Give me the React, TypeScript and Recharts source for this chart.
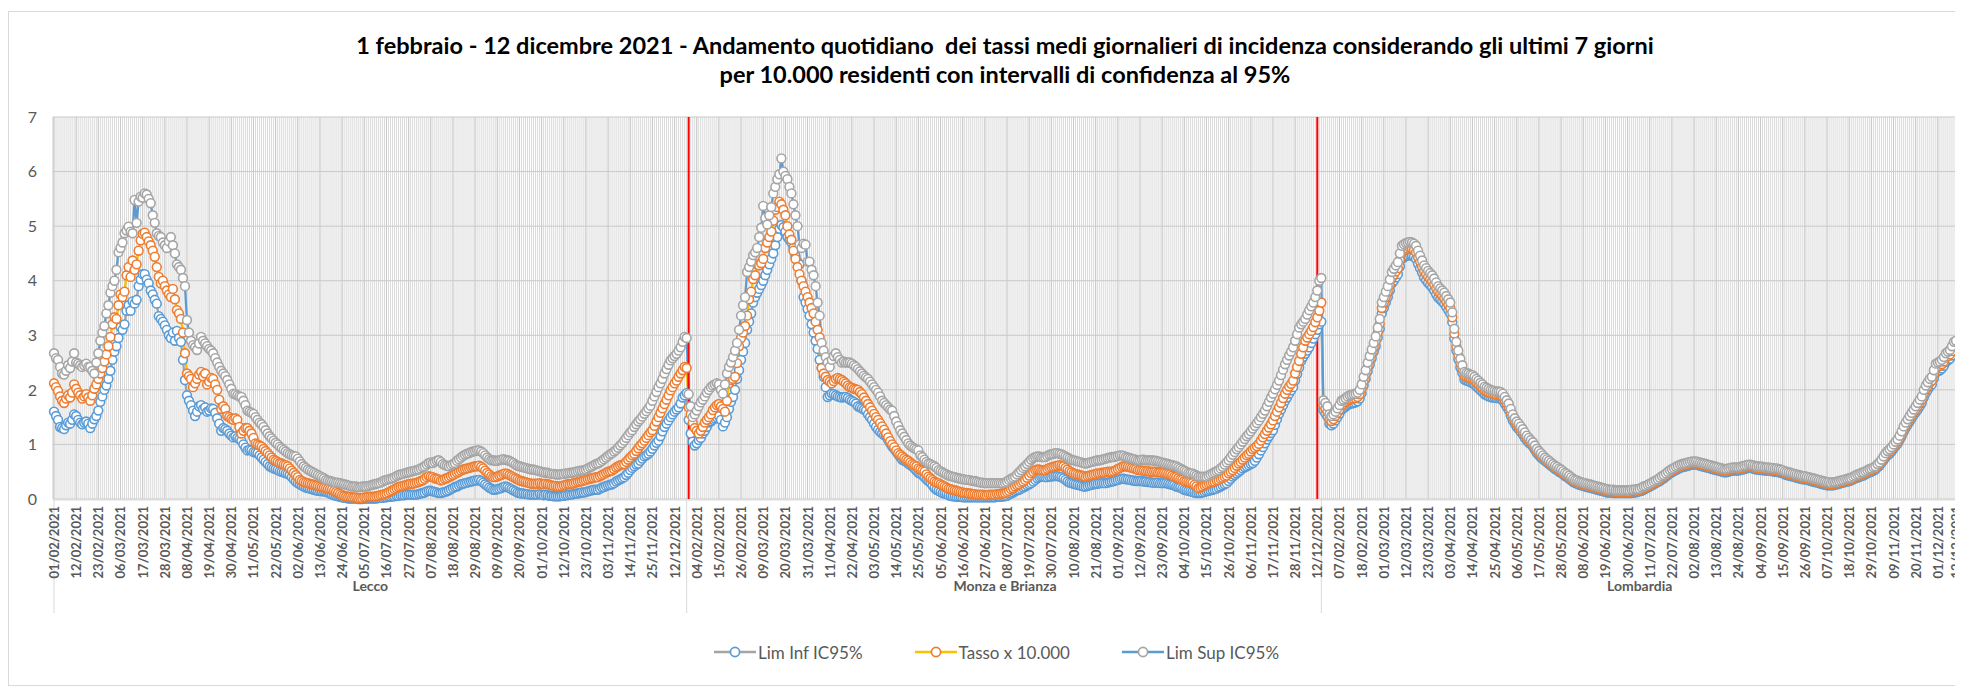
import React from 'react';
import { LineChart, Line, XAxis, YAxis, CartesianGrid, ReferenceLine, Legend } from 'recharts';

// ---------- DATA ----------
const GROUP_NAMES = ['Lecco', 'Monza e Brianza', 'Lombardia'];

const LECCO_TASSO = [
  2.12,2.05,1.98,1.88,1.80,1.76,1.84,1.90,1.86,1.95,
  2.10,2.02,1.95,1.90,1.84,1.88,1.92,1.86,1.80,1.90,
  2.02,2.10,2.20,2.30,2.40,2.52,2.65,2.80,2.97,3.20,
  3.33,3.30,3.55,3.75,3.70,3.80,4.10,4.25,4.07,4.37,
  4.20,4.30,4.55,4.74,4.86,4.88,4.80,4.72,4.65,4.55,
  4.44,4.25,4.07,3.95,4.00,3.90,3.82,3.75,3.70,3.85,
  3.66,3.46,3.40,3.30,3.05,2.67,2.30,2.25,2.20,2.05,
  2.12,2.20,2.28,2.33,2.25,2.30,2.10,2.15,2.22,2.20,
  2.10,2.00,1.82,1.65,1.70,1.65,1.52,1.50,1.47,1.45,
  1.48,1.45,1.32,1.20,1.25,1.30,1.30,1.25,1.20,1.12,
  1.02,1.00,0.98,0.96,0.92,0.88,0.84,0.80,0.76,0.72,
  0.70,0.68,0.66,0.65,0.63,0.62,0.60,0.56,0.52,0.48,
  0.44,0.40,0.35,0.33,0.31,0.30,0.29,0.28,0.27,0.26,
  0.25,0.24,0.23,0.22,0.21,0.20,0.19,0.18,0.17,0.15,
  0.13,0.11,0.09,0.07,0.06,0.05,0.04,0.04,0.03,0.03,
  0.03,0.02,0.02,0.02,0.03,0.03,0.04,0.04,0.04,0.04,
  0.05,0.06,0.07,0.08,0.09,0.10,0.12,0.14,0.16,0.18,
  0.20,0.22,0.23,0.24,0.25,0.26,0.27,0.28,0.28,0.29,
  0.30,0.31,0.33,0.34,0.37,0.40,0.42,0.41,0.40,0.38,
  0.37,0.36,0.34,0.35,0.37,0.38,0.40,0.42,0.44,0.46,
  0.48,0.50,0.52,0.54,0.55,0.56,0.57,0.58,0.59,0.60,
  0.60,0.61,0.59,0.56,0.52,0.48,0.45,0.42,0.40,0.40,
  0.41,0.43,0.44,0.46,0.47,0.46,0.44,0.42,0.40,0.38,
  0.36,0.34,0.33,0.32,0.31,0.30,0.29,0.28,0.28,0.28,
  0.28,0.29,0.28,0.27,0.28,0.27,0.26,0.25,0.24,0.24,
  0.23,0.23,0.24,0.25,0.26,0.27,0.27,0.28,0.29,0.30,
  0.31,0.32,0.33,0.34,0.35,0.36,0.37,0.38,0.39,0.40,
  0.40,0.42,0.44,0.46,0.48,0.50,0.51,0.52,0.55,0.58,
  0.60,0.62,0.63,0.64,0.68,0.72,0.76,0.80,0.83,0.88,
  0.93,0.98,1.02,1.07,1.12,1.17,1.22,1.26,1.34,1.42,
  1.50,1.58,1.66,1.74,1.82,1.90,1.99,2.05,2.12,2.17,
  2.24,2.30,2.36,2.42,2.40,
];

const LECCO_INF = [
  1.60,1.52,1.45,1.32,1.30,1.28,1.35,1.40,1.38,1.45,
  1.55,1.52,1.45,1.40,1.37,1.40,1.42,1.38,1.30,1.38,
  1.46,1.52,1.62,1.78,1.88,2.00,2.08,2.20,2.35,2.55,
  2.70,2.80,2.95,3.15,3.10,3.20,3.45,3.55,3.45,3.62,
  3.58,3.65,3.90,4.02,4.12,4.12,4.02,3.95,3.82,3.75,
  3.65,3.58,3.35,3.30,3.25,3.18,3.10,3.00,2.95,3.05,
  2.90,3.08,2.95,2.88,2.55,2.18,1.90,1.80,1.72,1.62,
  1.52,1.60,1.70,1.72,1.65,1.68,1.60,1.62,1.66,1.65,
  1.58,1.48,1.38,1.25,1.30,1.28,1.25,1.20,1.16,1.13,
  1.15,1.12,1.10,1.07,1.00,0.94,0.89,0.90,0.89,0.86,
  0.85,0.84,0.80,0.76,0.72,0.68,0.64,0.60,0.58,0.56,
  0.55,0.53,0.51,0.50,0.49,0.47,0.46,0.44,0.40,0.36,
  0.32,0.29,0.27,0.25,0.23,0.21,0.20,0.19,0.18,0.17,
  0.16,0.15,0.15,0.14,0.14,0.13,0.12,0.10,0.08,0.07,
  0.06,0.05,0.04,0.03,0.02,0.02,0.01,0.01,0.01,0.01,
  0.01,0.00,0.00,0.00,0.01,0.01,0.01,0.01,0.01,0.01,
  0.01,0.02,0.02,0.02,0.03,0.03,0.04,0.04,0.05,0.05,
  0.06,0.06,0.07,0.07,0.07,0.08,0.08,0.08,0.08,0.08,
  0.08,0.09,0.10,0.11,0.12,0.14,0.15,0.15,0.14,0.13,
  0.12,0.11,0.11,0.12,0.13,0.14,0.16,0.18,0.20,0.22,
  0.23,0.25,0.27,0.28,0.29,0.30,0.31,0.32,0.33,0.34,
  0.34,0.35,0.33,0.30,0.27,0.24,0.21,0.19,0.17,0.17,
  0.18,0.19,0.20,0.22,0.23,0.22,0.20,0.18,0.16,0.14,
  0.12,0.11,0.10,0.10,0.09,0.09,0.08,0.08,0.08,0.08,
  0.08,0.09,0.08,0.07,0.08,0.07,0.06,0.06,0.05,0.05,
  0.05,0.05,0.06,0.06,0.07,0.07,0.08,0.08,0.09,0.10,
  0.10,0.11,0.12,0.12,0.13,0.14,0.15,0.16,0.17,0.17,
  0.17,0.19,0.21,0.22,0.24,0.25,0.26,0.27,0.29,0.32,
  0.34,0.36,0.38,0.40,0.44,0.48,0.53,0.57,0.60,0.63,
  0.65,0.70,0.74,0.78,0.80,0.83,0.87,0.92,0.98,1.03,
  1.07,1.15,1.24,1.32,1.38,1.44,1.50,1.55,1.60,1.64,
  1.68,1.75,1.86,1.90,1.94,
];

const LECCO_SUP = [
  2.67,2.58,2.55,2.42,2.30,2.28,2.35,2.45,2.40,2.52,
  2.67,2.50,2.48,2.45,2.42,2.45,2.48,2.42,2.42,2.35,
  2.30,2.50,2.67,2.90,3.05,3.17,3.40,3.55,3.78,3.90,
  4.00,4.20,4.52,4.60,4.70,4.87,4.92,4.99,4.90,4.87,
  5.48,5.06,5.45,5.54,5.52,5.60,5.58,5.50,5.42,5.20,
  5.06,4.87,4.82,4.80,4.70,4.65,4.60,4.72,4.80,4.65,
  4.50,4.30,4.25,4.20,4.05,3.90,3.28,3.05,2.90,2.82,
  2.78,2.73,2.85,2.97,2.90,2.85,2.80,2.75,2.72,2.67,
  2.58,2.50,2.42,2.35,2.30,2.25,2.18,2.10,2.02,1.93,
  1.92,1.90,1.88,1.87,1.80,1.72,1.62,1.60,1.58,1.56,
  1.50,1.45,1.40,1.37,1.32,1.26,1.20,1.15,1.11,1.07,
  1.03,1.00,0.96,0.93,0.90,0.87,0.84,0.82,0.80,0.79,
  0.78,0.74,0.69,0.64,0.60,0.57,0.54,0.52,0.50,0.48,
  0.46,0.44,0.42,0.40,0.38,0.35,0.34,0.33,0.32,0.31,
  0.30,0.30,0.29,0.28,0.27,0.26,0.25,0.24,0.23,0.23,
  0.23,0.22,0.22,0.23,0.23,0.23,0.24,0.25,0.26,0.27,
  0.28,0.29,0.30,0.32,0.34,0.35,0.36,0.37,0.38,0.40,
  0.42,0.44,0.45,0.46,0.47,0.48,0.49,0.50,0.51,0.52,
  0.53,0.54,0.56,0.58,0.60,0.63,0.66,0.67,0.66,0.68,
  0.70,0.71,0.68,0.64,0.62,0.61,0.60,0.62,0.64,0.66,
  0.70,0.73,0.76,0.79,0.81,0.83,0.84,0.86,0.87,0.88,
  0.89,0.89,0.87,0.84,0.80,0.76,0.73,0.71,0.71,0.70,
  0.70,0.71,0.72,0.73,0.72,0.71,0.70,0.68,0.66,0.63,
  0.61,0.60,0.59,0.58,0.57,0.56,0.55,0.54,0.54,0.53,
  0.52,0.51,0.50,0.49,0.48,0.48,0.47,0.46,0.46,0.45,
  0.45,0.45,0.46,0.46,0.47,0.47,0.48,0.48,0.49,0.50,
  0.51,0.52,0.52,0.53,0.54,0.56,0.58,0.60,0.62,0.64,
  0.65,0.67,0.70,0.73,0.76,0.79,0.82,0.84,0.87,0.90,
  0.94,0.98,1.02,1.07,1.12,1.17,1.22,1.26,1.32,1.37,
  1.42,1.46,1.51,1.56,1.61,1.66,1.71,1.80,1.88,1.96,
  2.05,2.12,2.20,2.30,2.38,2.46,2.54,2.58,2.62,2.66,
  2.72,2.78,2.88,2.97,2.95,
];

const MONZA_TASSO = [
  1.68,1.55,1.40,1.30,1.25,1.20,1.25,1.32,1.40,1.45,
  1.50,1.55,1.63,1.68,1.72,1.74,1.70,1.65,1.60,1.80,
  2.12,2.18,2.20,2.24,2.49,2.80,2.95,3.05,3.17,3.36,
  3.66,3.80,4.03,4.10,4.30,4.28,4.32,4.40,4.60,4.70,
  4.80,4.90,5.10,5.30,5.35,5.45,5.40,5.30,5.20,5.00,
  4.85,4.75,4.55,4.40,4.25,4.12,4.00,3.90,3.80,3.70,
  3.60,3.50,3.40,3.25,3.10,2.96,2.40,2.30,2.24,2.18,
  2.15,2.12,2.16,2.20,2.22,2.20,2.18,2.15,2.12,2.08,
  2.05,2.04,2.02,2.01,2.00,1.96,1.92,1.86,1.80,1.74,
  1.68,1.62,1.56,1.50,1.45,1.39,1.33,1.27,1.20,1.13,
  1.06,1.00,0.95,0.89,0.84,0.81,0.78,0.75,0.72,0.70,
  0.67,0.64,0.62,0.60,0.56,0.54,0.52,0.50,0.45,0.41,
  0.38,0.35,0.32,0.30,0.29,0.27,0.25,0.23,0.21,0.19,
  0.18,0.17,0.16,0.15,0.14,0.13,0.12,0.11,0.11,0.10,
  0.10,0.09,0.09,0.08,0.08,0.08,0.08,0.07,0.07,0.08,
  0.08,0.08,0.08,0.09,0.09,0.10,0.10,0.11,0.13,0.15,
  0.18,0.20,0.23,0.25,0.27,0.30,0.32,0.35,0.39,0.43,
  0.47,0.50,0.53,0.54,0.54,0.53,0.53,0.53,0.55,0.57,
  0.58,0.59,0.60,0.61,0.62,0.61,0.60,0.57,0.54,0.51,
  0.49,0.47,0.46,0.45,0.44,0.43,0.42,0.41,0.42,0.43,
  0.44,0.45,0.46,0.47,0.47,0.48,0.48,0.49,0.50,0.50,
  0.50,0.51,0.53,0.55,0.57,0.59,0.60,0.60,0.59,0.58,
  0.57,0.56,0.55,0.53,0.53,0.52,0.52,0.51,0.51,0.50,
  0.50,0.50,0.50,0.49,0.49,0.48,0.48,0.47,0.46,0.45,
  0.43,0.41,0.40,0.38,0.36,0.35,0.33,0.32,0.31,0.30,
  0.29,0.26,0.23,0.20,0.21,0.23,0.25,0.27,0.29,0.30,
  0.31,0.32,0.34,0.35,0.37,0.39,0.41,0.43,0.47,0.50,
  0.53,0.57,0.61,0.65,0.68,0.72,0.76,0.80,0.83,0.87,
  0.91,0.94,0.97,1.01,1.07,1.13,1.19,1.25,1.31,1.37,
  1.44,1.52,1.60,1.68,1.76,1.85,1.93,2.00,2.06,2.11,
  2.17,2.30,2.42,2.53,2.66,2.78,2.90,2.96,3.02,3.08,
  3.15,3.24,3.33,3.45,3.60,
];

const MONZA_INF = [
  1.45,1.20,1.05,0.98,1.02,1.08,1.12,1.20,1.25,1.32,
  1.40,1.42,1.45,1.48,1.50,1.52,1.45,1.33,1.40,1.50,
  1.65,1.78,1.87,2.00,2.20,2.36,2.55,2.70,2.86,3.10,
  3.25,3.40,3.60,3.70,3.78,3.85,3.92,4.00,4.10,4.20,
  4.30,4.40,4.50,4.65,4.80,4.95,5.02,4.98,4.90,4.80,
  4.75,4.70,4.60,4.45,4.35,4.30,4.00,3.70,3.60,3.48,
  3.36,3.20,3.05,2.90,2.75,2.55,2.40,2.24,2.05,1.87,
  1.90,1.93,1.92,1.90,1.88,1.87,1.86,1.87,1.87,1.85,
  1.82,1.80,1.78,1.75,1.70,1.68,1.66,1.64,1.62,1.55,
  1.50,1.45,1.38,1.32,1.27,1.23,1.20,1.17,1.15,1.08,
  1.02,0.96,0.92,0.87,0.82,0.77,0.72,0.70,0.68,0.65,
  0.62,0.60,0.56,0.52,0.48,0.46,0.44,0.40,0.36,0.33,
  0.30,0.25,0.20,0.17,0.15,0.13,0.11,0.10,0.09,0.07,
  0.06,0.05,0.05,0.04,0.04,0.04,0.03,0.03,0.03,0.03,
  0.03,0.03,0.03,0.03,0.03,0.03,0.03,0.03,0.03,0.03,
  0.03,0.03,0.03,0.04,0.04,0.04,0.05,0.05,0.06,0.08,
  0.10,0.12,0.14,0.16,0.17,0.19,0.21,0.23,0.25,0.27,
  0.29,0.32,0.35,0.38,0.40,0.41,0.41,0.40,0.40,0.41,
  0.41,0.42,0.42,0.42,0.41,0.40,0.38,0.35,0.32,0.30,
  0.29,0.28,0.27,0.26,0.25,0.24,0.23,0.23,0.24,0.25,
  0.26,0.27,0.28,0.28,0.29,0.29,0.29,0.29,0.30,0.31,
  0.32,0.33,0.34,0.35,0.36,0.37,0.37,0.36,0.36,0.35,
  0.34,0.34,0.33,0.33,0.33,0.33,0.32,0.32,0.31,0.31,
  0.30,0.30,0.30,0.30,0.29,0.29,0.29,0.29,0.28,0.27,
  0.26,0.25,0.23,0.22,0.21,0.19,0.17,0.16,0.15,0.14,
  0.13,0.12,0.11,0.11,0.11,0.12,0.13,0.14,0.15,0.16,
  0.17,0.18,0.19,0.21,0.23,0.25,0.27,0.29,0.33,0.37,
  0.41,0.44,0.47,0.50,0.53,0.56,0.58,0.60,0.62,0.64,
  0.66,0.70,0.76,0.82,0.89,0.95,1.02,1.09,1.15,1.21,
  1.26,1.36,1.46,1.56,1.64,1.72,1.80,1.86,1.93,1.99,
  2.05,2.17,2.29,2.41,2.53,2.60,2.66,2.72,2.78,2.86,
  2.94,3.02,3.10,3.20,3.25,
];

const MONZA_SUP = [
  1.92,1.70,1.50,1.55,1.62,1.70,1.77,1.82,1.88,1.95,
  2.00,2.05,2.08,2.10,2.12,2.10,2.00,1.93,2.10,2.30,
  2.42,2.50,2.60,2.72,2.86,3.10,3.36,3.55,3.70,4.16,
  4.25,4.35,4.47,4.52,4.60,4.80,4.97,5.37,5.15,5.03,
  5.20,5.35,5.60,5.72,5.86,5.95,6.24,6.00,5.92,5.86,
  5.72,5.60,5.40,5.20,5.00,4.66,4.60,4.68,4.66,4.35,
  4.35,4.20,4.10,3.90,3.60,3.36,2.86,2.72,2.60,2.50,
  2.42,2.55,2.62,2.67,2.60,2.55,2.50,2.52,2.50,2.50,
  2.50,2.48,2.45,2.42,2.38,2.34,2.30,2.26,2.23,2.20,
  2.15,2.10,2.05,2.00,1.95,1.88,1.80,1.76,1.72,1.68,
  1.64,1.62,1.52,1.42,1.34,1.26,1.20,1.14,1.08,1.02,
  0.98,0.95,0.93,0.91,0.89,0.80,0.77,0.72,0.68,0.65,
  0.64,0.62,0.60,0.57,0.53,0.51,0.49,0.47,0.45,0.43,
  0.42,0.41,0.40,0.39,0.38,0.37,0.36,0.36,0.35,0.35,
  0.34,0.33,0.33,0.32,0.31,0.30,0.30,0.29,0.29,0.29,
  0.29,0.29,0.29,0.29,0.29,0.29,0.29,0.30,0.32,0.35,
  0.37,0.39,0.41,0.45,0.49,0.53,0.57,0.60,0.64,0.68,
  0.72,0.75,0.77,0.78,0.78,0.77,0.77,0.77,0.79,0.81,
  0.82,0.83,0.84,0.84,0.83,0.82,0.80,0.78,0.76,0.74,
  0.72,0.71,0.70,0.69,0.68,0.67,0.66,0.65,0.66,0.67,
  0.68,0.69,0.70,0.71,0.71,0.72,0.73,0.74,0.75,0.76,
  0.77,0.77,0.78,0.79,0.80,0.80,0.79,0.77,0.76,0.75,
  0.74,0.73,0.72,0.71,0.71,0.72,0.72,0.71,0.71,0.71,
  0.71,0.70,0.70,0.69,0.68,0.67,0.66,0.65,0.64,0.63,
  0.62,0.61,0.60,0.58,0.56,0.54,0.52,0.50,0.48,0.47,
  0.47,0.45,0.43,0.41,0.41,0.41,0.41,0.41,0.43,0.45,
  0.47,0.49,0.51,0.53,0.56,0.59,0.63,0.67,0.71,0.76,
  0.81,0.86,0.91,0.95,1.00,1.05,1.10,1.15,1.19,1.24,
  1.29,1.34,1.39,1.44,1.50,1.56,1.62,1.70,1.78,1.86,
  1.93,2.01,2.09,2.17,2.27,2.37,2.47,2.55,2.63,2.70,
  2.78,2.90,3.02,3.14,3.20,3.25,3.30,3.38,3.46,3.53,
  3.60,3.70,3.82,4.00,4.05,
];

const LOMB_TASSO = [
  1.72,1.66,1.60,1.46,1.43,1.46,1.52,1.58,1.64,1.72,
  1.74,1.77,1.80,1.82,1.83,1.84,1.85,1.87,1.92,2.02,
  2.16,2.28,2.42,2.54,2.66,2.78,2.89,3.05,3.21,3.50,
  3.60,3.70,3.80,3.92,4.05,4.11,4.17,4.23,4.38,4.52,
  4.55,4.57,4.58,4.59,4.58,4.56,4.52,4.43,4.35,4.26,
  4.17,4.12,4.07,4.03,3.99,3.93,3.86,3.80,3.76,3.72,
  3.68,3.62,3.56,3.50,3.33,3.03,2.80,2.64,2.49,2.38,
  2.26,2.24,2.23,2.21,2.20,2.17,2.13,2.10,2.06,2.03,
  1.99,1.97,1.95,1.94,1.93,1.92,1.91,1.91,1.90,1.87,
  1.81,1.75,1.69,1.59,1.50,1.43,1.37,1.33,1.28,1.23,
  1.17,1.12,1.08,1.04,1.00,0.94,0.88,0.84,0.80,0.77,
  0.73,0.70,0.67,0.64,0.61,0.58,0.56,0.53,0.51,0.48,
  0.45,0.43,0.40,0.37,0.34,0.32,0.31,0.29,0.28,0.27,
  0.26,0.25,0.24,0.23,0.22,0.21,0.20,0.19,0.18,0.17,
  0.16,0.15,0.14,0.14,0.14,0.13,0.13,0.13,0.13,0.13,
  0.13,0.13,0.13,0.14,0.14,0.15,0.15,0.16,0.18,0.20,
  0.21,0.23,0.25,0.27,0.29,0.31,0.33,0.36,0.39,0.41,
  0.44,0.47,0.50,0.52,0.54,0.56,0.58,0.60,0.61,0.62,
  0.63,0.64,0.65,0.66,0.66,0.66,0.65,0.64,0.63,0.62,
  0.61,0.60,0.59,0.58,0.57,0.56,0.55,0.54,0.53,0.52,
  0.52,0.53,0.54,0.55,0.55,0.55,0.55,0.56,0.57,0.58,
  0.59,0.60,0.60,0.59,0.58,0.57,0.57,0.56,0.56,0.55,
  0.55,0.55,0.54,0.54,0.53,0.53,0.52,0.51,0.50,0.48,
  0.47,0.46,0.45,0.44,0.43,0.42,0.41,0.40,0.39,0.39,
  0.38,0.37,0.36,0.35,0.34,0.33,0.32,0.31,0.30,0.29,
  0.28,0.28,0.27,0.28,0.28,0.29,0.30,0.31,0.32,0.33,
  0.34,0.35,0.36,0.38,0.40,0.42,0.43,0.45,0.46,0.48,
  0.50,0.52,0.53,0.55,0.57,0.61,0.64,0.69,0.74,0.80,
  0.84,0.87,0.91,0.96,1.01,1.05,1.12,1.19,1.28,1.35,
  1.41,1.47,1.53,1.59,1.64,1.70,1.76,1.82,1.93,2.01,
  2.07,2.13,2.17,2.28,2.40,2.42,2.44,2.47,2.52,2.59,
  2.62,2.65,2.71,2.79,2.81,
];

const LOMB_INF = [
  1.63,1.57,1.51,1.38,1.35,1.38,1.44,1.50,1.56,1.64,
  1.66,1.69,1.72,1.74,1.75,1.76,1.77,1.79,1.84,1.94,
  2.08,2.20,2.34,2.46,2.58,2.70,2.80,2.96,3.12,3.40,
  3.50,3.60,3.70,3.82,3.95,4.00,4.06,4.12,4.26,4.40,
  4.43,4.45,4.46,4.47,4.46,4.44,4.40,4.31,4.23,4.15,
  4.06,4.01,3.96,3.92,3.88,3.82,3.75,3.69,3.66,3.62,
  3.58,3.52,3.46,3.40,3.24,2.94,2.72,2.56,2.41,2.31,
  2.19,2.17,2.16,2.14,2.13,2.10,2.06,2.03,1.99,1.96,
  1.92,1.90,1.88,1.87,1.86,1.86,1.85,1.85,1.84,1.81,
  1.75,1.69,1.63,1.53,1.44,1.38,1.32,1.28,1.23,1.18,
  1.12,1.07,1.03,1.00,0.96,0.90,0.84,0.80,0.76,0.73,
  0.70,0.67,0.64,0.61,0.58,0.55,0.53,0.50,0.48,0.45,
  0.42,0.40,0.37,0.34,0.31,0.29,0.28,0.26,0.25,0.24,
  0.23,0.22,0.21,0.20,0.19,0.18,0.17,0.16,0.15,0.14,
  0.13,0.12,0.12,0.12,0.11,0.11,0.11,0.11,0.11,0.11,
  0.11,0.11,0.11,0.11,0.12,0.12,0.13,0.14,0.15,0.17,
  0.19,0.21,0.23,0.25,0.27,0.29,0.31,0.33,0.36,0.38,
  0.41,0.44,0.47,0.49,0.51,0.53,0.55,0.57,0.58,0.59,
  0.60,0.61,0.62,0.63,0.63,0.63,0.62,0.61,0.60,0.59,
  0.58,0.57,0.56,0.55,0.54,0.53,0.52,0.51,0.50,0.49,
  0.49,0.50,0.51,0.52,0.52,0.52,0.52,0.53,0.54,0.55,
  0.56,0.57,0.57,0.56,0.55,0.54,0.54,0.53,0.53,0.52,
  0.52,0.52,0.51,0.51,0.50,0.50,0.49,0.48,0.47,0.45,
  0.44,0.43,0.42,0.41,0.40,0.39,0.38,0.37,0.36,0.36,
  0.35,0.34,0.33,0.32,0.31,0.30,0.29,0.28,0.27,0.26,
  0.25,0.25,0.25,0.25,0.26,0.27,0.28,0.29,0.30,0.31,
  0.32,0.33,0.34,0.36,0.38,0.39,0.40,0.42,0.43,0.45,
  0.47,0.49,0.50,0.52,0.54,0.58,0.61,0.66,0.71,0.76,
  0.80,0.83,0.87,0.92,0.97,1.01,1.08,1.15,1.23,1.30,
  1.36,1.42,1.48,1.54,1.59,1.64,1.70,1.76,1.86,1.94,
  2.00,2.06,2.10,2.21,2.32,2.34,2.36,2.39,2.44,2.51,
  2.54,2.57,2.63,2.71,2.73,
];

const LOMB_SUP = [
  1.81,1.76,1.70,1.55,1.52,1.55,1.60,1.66,1.72,1.80,
  1.82,1.85,1.88,1.90,1.91,1.92,1.93,1.95,2.00,2.10,
  2.24,2.36,2.50,2.62,2.74,2.86,2.98,3.14,3.30,3.60,
  3.70,3.80,3.90,4.02,4.16,4.22,4.28,4.34,4.50,4.64,
  4.67,4.69,4.70,4.71,4.70,4.68,4.64,4.55,4.46,4.37,
  4.28,4.23,4.18,4.14,4.10,4.04,3.97,3.90,3.86,3.82,
  3.78,3.72,3.66,3.60,3.42,3.12,2.88,2.72,2.57,2.45,
  2.33,2.31,2.30,2.28,2.27,2.24,2.20,2.17,2.13,2.10,
  2.06,2.04,2.02,2.00,1.99,1.98,1.97,1.97,1.96,1.93,
  1.87,1.81,1.75,1.65,1.55,1.48,1.42,1.38,1.33,1.28,
  1.22,1.16,1.12,1.08,1.04,0.98,0.92,0.88,0.84,0.80,
  0.76,0.73,0.70,0.67,0.64,0.61,0.59,0.56,0.54,0.51,
  0.48,0.46,0.43,0.40,0.37,0.35,0.34,0.32,0.31,0.30,
  0.29,0.28,0.27,0.26,0.25,0.24,0.23,0.22,0.21,0.20,
  0.19,0.18,0.17,0.17,0.17,0.16,0.16,0.16,0.16,0.16,
  0.16,0.16,0.16,0.17,0.17,0.18,0.18,0.19,0.21,0.23,
  0.24,0.26,0.28,0.30,0.32,0.34,0.36,0.39,0.42,0.44,
  0.47,0.50,0.53,0.55,0.57,0.59,0.61,0.63,0.64,0.65,
  0.66,0.67,0.68,0.69,0.69,0.69,0.68,0.67,0.66,0.65,
  0.64,0.63,0.62,0.61,0.60,0.59,0.58,0.57,0.56,0.55,
  0.55,0.56,0.57,0.58,0.58,0.58,0.58,0.59,0.60,0.61,
  0.62,0.63,0.63,0.62,0.61,0.60,0.60,0.59,0.59,0.58,
  0.58,0.58,0.57,0.57,0.56,0.56,0.55,0.54,0.53,0.51,
  0.50,0.49,0.48,0.47,0.46,0.45,0.44,0.43,0.42,0.42,
  0.41,0.40,0.39,0.38,0.37,0.36,0.35,0.34,0.33,0.32,
  0.31,0.31,0.30,0.31,0.31,0.32,0.33,0.34,0.35,0.36,
  0.37,0.38,0.39,0.41,0.43,0.45,0.46,0.48,0.49,0.51,
  0.53,0.55,0.56,0.58,0.60,0.64,0.67,0.72,0.78,0.84,
  0.88,0.91,0.95,1.00,1.05,1.09,1.16,1.24,1.33,1.40,
  1.46,1.52,1.58,1.64,1.70,1.76,1.82,1.88,2.00,2.08,
  2.14,2.20,2.24,2.36,2.48,2.50,2.52,2.55,2.60,2.67,
  2.70,2.73,2.80,2.88,2.90,
];

const LECCO_TICKS = ['01/02/2021','12/02/2021','23/02/2021','06/03/2021','17/03/2021','28/03/2021','08/04/2021','19/04/2021','30/04/2021','11/05/2021','22/05/2021','02/06/2021','13/06/2021','24/06/2021','05/07/2021','16/07/2021','27/07/2021','07/08/2021','18/08/2021','29/08/2021','09/09/2021','20/09/2021','01/10/2021','12/10/2021','23/10/2021','03/11/2021','14/11/2021','25/11/2021','12/12/2021'];
const MONZA_TICKS = ['04/02/2021','15/02/2021','26/02/2021','09/03/2021','20/03/2021','31/03/2021','11/04/2021','22/04/2021','03/05/2021','14/05/2021','25/05/2021','05/06/2021','16/06/2021','27/06/2021','08/07/2021','19/07/2021','30/07/2021','10/08/2021','21/08/2021','01/09/2021','12/09/2021','23/09/2021','04/10/2021','15/10/2021','26/10/2021','06/11/2021','17/11/2021','28/11/2021','12/12/2021'];
const LOMB_TICKS = ['07/02/2021','18/02/2021','01/03/2021','12/03/2021','23/03/2021','03/04/2021','14/04/2021','25/04/2021','06/05/2021','17/05/2021','28/05/2021','08/06/2021','19/06/2021','30/06/2021','11/07/2021','22/07/2021','02/08/2021','13/08/2021','24/08/2021','04/09/2021','15/09/2021','26/09/2021','07/10/2021','18/10/2021','29/10/2021','09/11/2021','20/11/2021','01/12/2021','12/12/2021'];
const Y_TICKS = [0, 1, 2, 3, 4, 5, 6, 7];
const TICK_STEP = 11;

const TITLE_1 = '1 febbraio - 12 dicembre 2021 - Andamento quotidiano  dei tassi medi giornalieri di incidenza considerando gli ultimi 7 giorni';
const TITLE_2 = 'per 10.000 residenti con intervalli di confidenza al 95%';

// ---------- BUILD ----------
const SERIES = [
  { key: 'inf', name: 'Lim Inf IC95%', line: '#A5A5A5', marker: '#5B9BD5' },
  { key: 'tasso', name: 'Tasso x 10.000', line: '#FFC000', marker: '#ED7D31' },
  { key: 'sup', name: 'Lim Sup IC95%', line: '#5B9BD5', marker: '#A5A5A5' },
];

const GROUP_DATA = [
  { inf: LECCO_INF, tasso: LECCO_TASSO, sup: LECCO_SUP },
  { inf: MONZA_INF, tasso: MONZA_TASSO, sup: MONZA_SUP },
  { inf: LOMB_INF, tasso: LOMB_TASSO, sup: LOMB_SUP },
];

type Row = { k: string; inf?: number; tasso?: number; sup?: number };
const rows: Row[] = [];
const groupStart: number[] = [];
const groupEnd: number[] = [];
GROUP_DATA.forEach((g) => {
  groupStart.push(rows.length);
  g.tasso.forEach((t, d) => {
    rows.push({ k: String(rows.length), inf: g.inf[d], tasso: t, sup: g.sup[d] });
  });
  groupEnd.push(rows.length - 1);
});
const N = rows.length;

const ALL_TICK_LABELS = [...LECCO_TICKS, ...MONZA_TICKS, ...LOMB_TICKS];
const tickLabelByKey: Record<string, string> = {};
const dateTickKeys = ALL_TICK_LABELS.map((lab, i) => {
  const key = String(Math.min(i * TICK_STEP, N - 1));
  tickLabelByKey[key] = lab;
  return key;
});

const groupMidKeys = groupStart.map((s, i) => String(Math.round((s + groupEnd[i]) / 2)));
const groupNameByKey: Record<string, string> = {};
groupMidKeys.forEach((k, i) => (groupNameByKey[k] = GROUP_NAMES[i]));
const sepKeys = ['0', ...groupEnd.map(String)];
const redLineKeys = [String(groupStart[1]), String(groupEnd[1] - 2)];

const FONT = 'Lato, "Liberation Sans", Arial, sans-serif';
const TXT = '#595959';
const XPAD = { left: 1, right: 3 };

const DateTick = (props: any) => {
  const { x, y, payload } = props;
  return (
    <text
      transform={`translate(${x},${y}) rotate(-90)`}
      textAnchor="end"
      dominantBaseline="central"
      fill={TXT}
      fontSize={13}
      fontWeight={700}
      fontFamily={FONT}
    >
      {tickLabelByKey[payload.value] ?? ''}
    </text>
  );
};

const GroupTick = (props: any) => {
  const { x, y, payload } = props;
  return (
    <text x={x} y={y} textAnchor="middle" dominantBaseline="hanging" fill={TXT} fontSize={14} fontWeight={700} fontFamily={FONT}>
      {groupNameByKey[payload.value] ?? ''}
    </text>
  );
};

const SEP_LEN = 114;
const SepTick = (props: any) => {
  const { x, y } = props;
  return <line x1={x} y1={y} x2={x} y2={y + SEP_LEN} stroke="#D9D9D9" strokeWidth={1} />;
};

const minorGen = (p: any) => {
  const s = p?.xAxis?.scale;
  if (!s) return [];
  return rows
    .map((r) => (typeof s === 'function' ? s(r.k) : s.map ? s.map(r.k) : undefined))
    .filter((v: any) => typeof v === 'number' && isFinite(v));
};

const renderLegend = () => (
  <div
    style={{
      display: 'flex',
      justifyContent: 'center',
      alignItems: 'center',
      height: 40,
      paddingLeft: 26,
      fontFamily: FONT,
      fontSize: 17,
      color: TXT,
    }}
  >
    {SERIES.map((s, i) => (
      <div key={s.key} style={{ display: 'flex', alignItems: 'center', marginLeft: i === 0 ? 0 : 52 }}>
        <svg width={42} height={14} style={{ display: 'block' }}>
          <line x1={0} y1={7} x2={42} y2={7} stroke={s.line} strokeWidth={2.5} />
          <circle cx={21} cy={7} r={4.6} fill="#fff" stroke={s.marker} strokeWidth={1.7} />
        </svg>
        <span style={{ marginLeft: 2 }}>{s.name}</span>
      </div>
    ))}
  </div>
);

export default function App() {
  return (
    <div style={{ position: 'relative', width: 1955, height: 679, fontFamily: FONT }}>
      <div
        style={{
          position: 'absolute',
          left: 0,
          top: 3,
          width: 1953,
          height: 675,
          border: '1px solid #D9D9D9',
          boxSizing: 'border-box',
        }}
      />
      <div
        style={{
          position: 'absolute',
          left: 47,
          width: 1900,
          top: 23,
          textAlign: 'center',
          fontFamily: FONT,
          fontWeight: 700,
          fontSize: 23.5,
          lineHeight: '29px',
          color: '#000',
          whiteSpace: 'pre',
          zIndex: 2,
        }}
      >
        <div>{TITLE_1}</div>
        <div>{TITLE_2}</div>
      </div>
      <LineChart width={1955} height={679} data={rows} margin={{ top: 109, right: 4, left: 0, bottom: 15 }}>
        <CartesianGrid
          xAxisId="b"
          horizontal={false}
          vertical
          verticalCoordinatesGenerator={minorGen}
          stroke="#DADADA"
          strokeWidth={1}
        />
        <CartesianGrid xAxisId="b" horizontal vertical stroke="#C9C9C9" strokeWidth={1} />
        <XAxis
          xAxisId="a"
          dataKey="k"
          type="category"
          ticks={sepKeys}
          interval={0}
          height={1}
          axisLine={false}
          tickLine={false}
          tickSize={0}
          tickMargin={0}
          tick={<SepTick />}
          padding={XPAD}
        />
        <XAxis
          xAxisId="b"
          dataKey="k"
          type="category"
          ticks={dateTickKeys}
          interval={0}
          height={76}
          axisLine={{ stroke: '#D9D9D9' }}
          tickLine={false}
          tickSize={0}
          tickMargin={6}
          tick={<DateTick />}
          padding={XPAD}
        />
        <XAxis
          xAxisId="c"
          dataKey="k"
          type="category"
          ticks={groupMidKeys}
          interval={0}
          height={56}
          axisLine={false}
          tickLine={false}
          tickSize={0}
          tickMargin={4}
          tick={<GroupTick />}
          padding={XPAD}
        />
        <YAxis
          domain={[0, 7]}
          ticks={Y_TICKS}
          interval={0}
          width={45}
          axisLine={false}
          tickLine={false}
          tickSize={0}
          tickMargin={16}
          tick={{ fill: TXT, fontSize: 16, fontFamily: FONT }}
        />
        {SERIES.map((s) => (
          <Line
            key={s.key}
            xAxisId="b"
            dataKey={s.key}
            name={s.name}
            type="linear"
            stroke={s.line}
            strokeWidth={2.25}
            dot={{ r: 4.4, fill: '#fff', stroke: s.marker, strokeWidth: 1.6 }}
            activeDot={false}
            isAnimationActive={false}
          />
        ))}
        {redLineKeys.map((k) => (
          <ReferenceLine key={k} xAxisId="b" x={k} stroke="#FF0000" strokeWidth={2} />
        ))}
        <Legend verticalAlign="bottom" align="center" content={renderLegend} wrapperStyle={{ height: 40 }} />
      </LineChart>
    </div>
  );
}
